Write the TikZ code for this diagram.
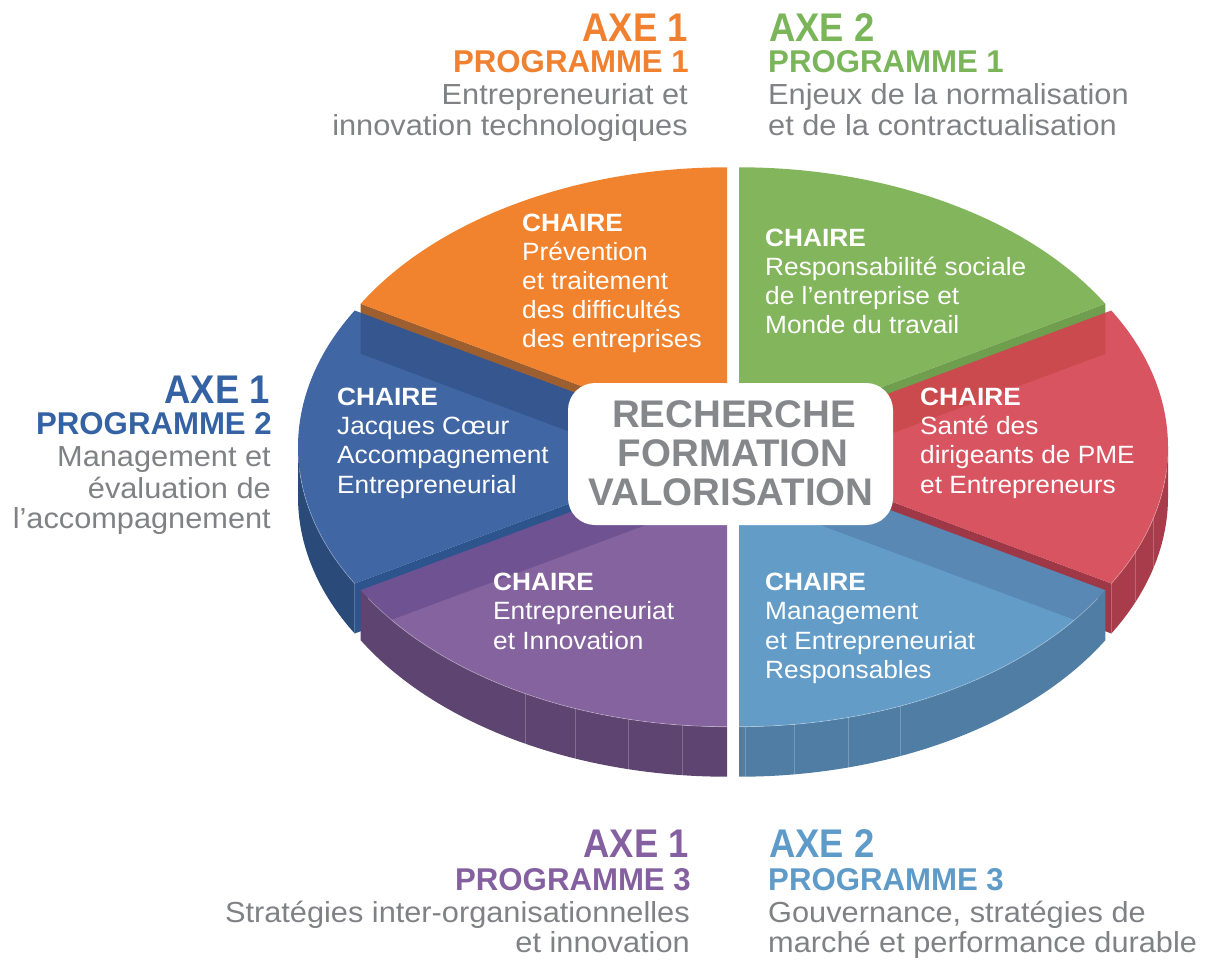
\documentclass[tikz,border=0pt]{standalone}
\usepackage{fontspec}
\setmainfont{Liberation Sans}
\newfontfamily\axef{Liberation Sans}[FakeStretch=0.91]
\newfontfamily\progf{Liberation Sans}[FakeStretch=0.99]
\newfontfamily\bodyf{Liberation Sans}[FakeStretch=1.06]
\newfontfamily\chf{Liberation Sans}[FakeStretch=1.05]
\usetikzlibrary{calc}
% top faces (drawn at 0.9 opacity)
\definecolor{otop}{RGB}{241,117,23}
\definecolor{gtop}{RGB}{117,174,74}
\definecolor{btop}{RGB}{43,86,154}
\definecolor{rtop}{RGB}{212,65,79}
\definecolor{ptop}{RGB}{119,82,147}
\definecolor{ltop}{RGB}{83,145,194}
% side faces
\definecolor{oside}{RGB}{158,95,48}
\definecolor{gside}{RGB}{110,158,78}
\definecolor{bside}{RGB}{42,74,122}
\definecolor{brad}{RGB}{45,84,140}
\definecolor{rside}{RGB}{168,60,74}
\definecolor{rrad}{RGB}{158,56,70}
\definecolor{pside}{RGB}{94,68,112}
\definecolor{lside}{RGB}{80,125,163}
% labels
\definecolor{orangeL}{RGB}{240,129,48}
\definecolor{greenL}{RGB}{123,181,90}
\definecolor{blueL}{RGB}{52,98,163}
\definecolor{purpleL}{RGB}{132,96,160}
\definecolor{lblueL}{RGB}{95,155,200}
\definecolor{txtgray}{RGB}{128,129,133}
\definecolor{ctrgray}{RGB}{134,135,139}
\begin{document}
\begin{tikzpicture}[x=1pt,y=-1pt,
  axe/.style={inner sep=0pt, font=\axef\bfseries\fontsize{40}{40}\selectfont},
  prog/.style={inner sep=0pt, font=\progf\bfseries\fontsize{31.5}{31.5}\selectfont},
  body/.style={inner sep=0pt, text=txtgray, font=\bodyf\fontsize{29}{29}\selectfont},
  cht/.style={inner sep=0pt, anchor=base west, text=white, font=\chf\bfseries\fontsize{25}{25}\selectfont},
  chb/.style={inner sep=0pt, anchor=base west, text=white, font=\chf\fontsize{25}{25}\selectfont},
  ctr/.style={inner sep=0pt, anchor=base, text=ctrgray, font=\bfseries\fontsize{38.5}{38.5}\selectfont},
  topface/.style={fill opacity=0.9},
  facet/.style={draw=white, draw opacity=0.22, line width=0.8pt},
  rim/.style={draw=white, draw opacity=0.35, line width=0.7pt},
  ctrbox/.style={fill=white, rounded corners=27pt, minimum width=325pt, minimum height=142pt, inner sep=0pt}
]
\useasboundingbox (0,0) rectangle (1206,961);

\begin{scope}[shift={(733,447)}, yscale=-1]
  \coordinate (oO) at (-6,6.7);
  \coordinate (oG) at (6,6.7);
  \coordinate (oB) at (-12,0);
  \coordinate (oR) at (12,0);
  \coordinate (oP) at (-6,-6.7);
  \coordinate (oL) at (6,-6.7);
  % ---- orange (90-150)
  \fill[oside] (oO) -- ++(150:423 and 273) -- ++(0,-50) -- ++(-30:423 and 273) -- cycle;
  \fill[otop,topface] (oO) -- ++(90:423 and 273) arc[start angle=90,end angle=150,x radius=423,y radius=273] -- cycle;
  % ---- green (30-90)
  \fill[gside] (oG) -- ++(30:423 and 273) -- ++(0,-50) -- ++(210:423 and 273) -- cycle;
  \fill[gtop,topface] (oG) -- ++(30:423 and 273) arc[start angle=30,end angle=90,x radius=423,y radius=273] -- cycle;
  % ---- dark blue (150-210)
  \fill[brad] (oB) -- ++(210:423 and 273) -- ++(0,-50) -- ++(30:423 and 273) -- cycle;
  \fill[bside] (oB) ++(180:423 and 273) arc[start angle=180,end angle=210,x radius=423,y radius=273] -- ++(0,-50) arc[start angle=210,end angle=180,x radius=423,y radius=273] -- cycle;
  \fill[btop,topface] (oB) -- ++(150:423 and 273) arc[start angle=150,end angle=210,x radius=423,y radius=273] -- cycle;
  \path[rim] (oB) ++(185:423 and 273) arc[start angle=185,end angle=210,x radius=423,y radius=273];
  % ---- red (-30-30)
  \fill[rrad] (oR) -- ++(-30:423 and 273) -- ++(0,-50) -- ++(150:423 and 273) -- cycle;
  \fill[rside] (oR) ++(-30:423 and 273) arc[start angle=-30,end angle=0,x radius=423,y radius=273] -- ++(0,-50) arc[start angle=0,end angle=-30,x radius=423,y radius=273] -- cycle;
  \fill[rtop,topface] (oR) -- ++(-30:423 and 273) arc[start angle=-30,end angle=30,x radius=423,y radius=273] -- cycle;
  \path[rim] (oR) ++(-30:423 and 273) arc[start angle=-30,end angle=-5,x radius=423,y radius=273];
  \path[facet] (oR) ++(337.5:423 and 273) -- ++(0,-50);
  \path[facet] (oR) ++(345:423 and 273) -- ++(0,-50);
  % ---- purple (210-270)
  \fill[pside] (oP) ++(210:423 and 273) arc[start angle=210,end angle=270,x radius=423,y radius=273] -- ++(0,-50) arc[start angle=270,end angle=210,x radius=423,y radius=273] -- cycle;
  \fill[ptop,topface] (oP) -- ++(210:423 and 273) arc[start angle=210,end angle=270,x radius=423,y radius=273] -- cycle;
  \path[rim] (oP) ++(212:423 and 273) arc[start angle=212,end angle=270,x radius=423,y radius=273];
  \foreach \t in {241.5,249,256.5,264}{\path[facet] (oP) ++(\t:423 and 273) -- ++(0,-50);}
  % ---- light blue (270-330)
  \fill[lside] (oL) ++(270:423 and 273) arc[start angle=270,end angle=330,x radius=423,y radius=273] -- ++(0,-50) arc[start angle=330,end angle=270,x radius=423,y radius=273] -- cycle;
  \fill[ltop,topface] (oL) -- ++(270:423 and 273) arc[start angle=270,end angle=330,x radius=423,y radius=273] -- cycle;
  \path[rim] (oL) ++(270:423 and 273) arc[start angle=270,end angle=328,x radius=423,y radius=273];
  \foreach \t in {270.8,277.5,285,292.5}{\path[facet] (oL) ++(\t:423 and 273) -- ++(0,-50);}
\end{scope}

% centre box
\node[ctrbox] (core) at (730.5,454) {};
\node[ctr] (c1) at (734,427) {RECHERCHE};
\node[ctr] (c2) at (733,466.5) {FORMATION};
\node[ctr] (c3) at (731,505.5) {VALORISATION};

% chaire texts
\node[cht] (o0) at (522,231) {CHAIRE};
\node[chb] (o1) at (522,260) {Prévention};
\node[chb] (o2) at (522,289) {et traitement};
\node[chb] (o3) at (522,318) {des difficultés};
\node[chb] (o4) at (522,347) {des entreprises};

\node[cht] (g0) at (765,246) {CHAIRE};
\node[chb] (g1) at (765,275) {Responsabilité sociale};
\node[chb] (g2) at (765,304) {de l’entreprise et};
\node[chb] (g3) at (765,333) {Monde du travail};

\node[cht] (b0) at (337,405) {CHAIRE};
\node[chb] (b1) at (337,434.5) {Jacques Cœur};
\node[chb] (b2) at (337,463.5) {Accompagnement};
\node[chb] (b3) at (337,493) {Entrepreneurial};

\node[cht] (r0) at (920,405) {CHAIRE};
\node[chb] (r1) at (920,434) {Santé des};
\node[chb] (r2) at (920,463.5) {dirigeants de PME};
\node[chb] (r3) at (920,493) {et Entrepreneurs};

\node[cht] (p0) at (493,590) {CHAIRE};
\node[chb] (p1) at (493,619) {Entrepreneuriat};
\node[chb] (p2) at (493,649) {et Innovation};

\node[cht] (l0) at (765,590) {CHAIRE};
\node[chb] (l1) at (765,619) {Management};
\node[chb] (l2) at (765,649) {et Entrepreneuriat};
\node[chb] (l3) at (765,678) {Responsables};

% outer labels: top left
\node[axe, text=orangeL, anchor=base east] (a1) at (688,41.7) {AXE 1};
\node[prog, text=orangeL, anchor=base east] (a2) at (689,72.7) {PROGRAMME 1};
\node[body, anchor=base east] (a3) at (688,104) {Entrepreneuriat et};
\node[body, anchor=base east] (a4) at (688,135) {innovation technologiques};
% top right
\node[axe, text=greenL, anchor=base west] (b1x) at (769,41.7) {AXE 2};
\node[prog, text=greenL, anchor=base west] (b2x) at (768,72.7) {PROGRAMME 1};
\node[body, anchor=base west] (b3x) at (768,104) {Enjeux de la normalisation};
\node[body, anchor=base west] (b4x) at (768,135) {et de la contractualisation};
% left
\node[axe, text=blueL, anchor=base east] (d1) at (270,403) {AXE 1};
\node[prog, text=blueL, anchor=base east] (d2) at (272,434) {PROGRAMME 2};
\node[body, anchor=base east] (d3) at (271,466) {Management et};
\node[body, anchor=base east] (d4) at (271,498) {évaluation de};
\node[body, anchor=base east] (d5) at (271,528) {l’accompagnement};
% bottom left
\node[axe, text=purpleL, anchor=base east] (e1) at (689,857) {AXE 1};
\node[prog, text=purpleL, anchor=base east] (e2) at (691,890) {PROGRAMME 3};
\node[body, anchor=base east] (e3) at (690,922) {Stratégies inter-organisationnelles};
\node[body, anchor=base east] (e4) at (690,952) {et innovation};
% bottom right
\node[axe, text=lblueL, anchor=base west] (f1) at (769,857) {AXE 2};
\node[prog, text=lblueL, anchor=base west] (f2) at (768,890) {PROGRAMME 3};
\node[body, anchor=base west] (f3) at (768,922) {Gouvernance, stratégies de};
\node[body, anchor=base west] (f4) at (768,952) {marché et performance durable};
\end{tikzpicture}
\end{document}
